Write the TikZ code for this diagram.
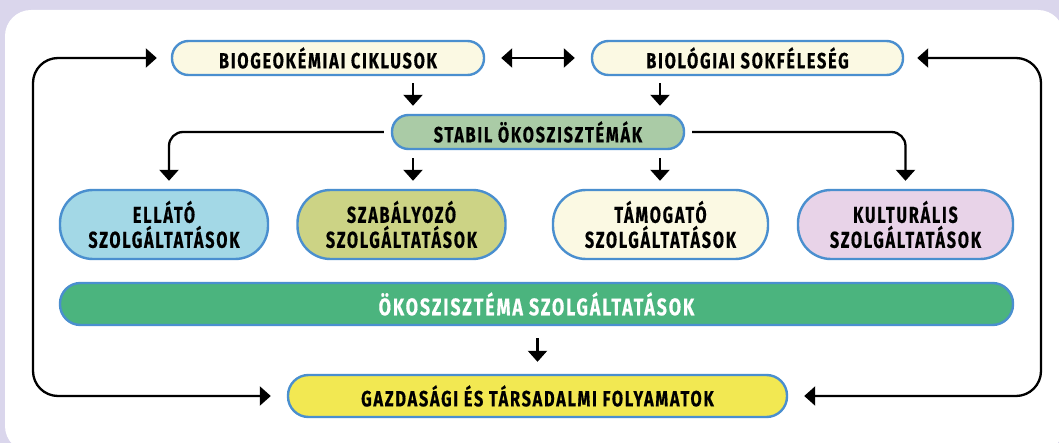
\documentclass[tikz,border=0pt]{standalone}
\usepackage{fontspec}
\newfontfamily\dfont{Fira Sans}[FakeStretch=0.74,LetterSpace=8,FakeBold=0.5]
\newfontfamily\dfontr{Fira Sans}[FakeStretch=0.7,LetterSpace=8,FakeBold=0.5]
\usetikzlibrary{arrows.meta,calc}
\definecolor{bgl}{HTML}{DAD6EC}
\definecolor{bordb}{HTML}{4A8FCF}
\definecolor{cream}{HTML}{FBF9E3}
\definecolor{sage}{HTML}{AACBA6}
\definecolor{lblue}{HTML}{A3D8E6}
\definecolor{olive}{HTML}{CCD385}
\definecolor{pinkl}{HTML}{E8D3E8}
\definecolor{ekog}{HTML}{4BB47E}
\definecolor{gyel}{HTML}{F2E852}
\tikzset{
  box/.style={draw=bordb, line width=2.4pt, rectangle, inner sep=0pt, align=center,
    font=\dfont\bfseries\fontsize{22}{24}\selectfont, text=black},
  bigtext/.style={font=\dfont\bfseries\fontsize{24}{24}\selectfont},
  thinbox/.style={box, minimum height=34pt, rounded corners=16.5pt},
  tallbox/.style={box, font=\dfontr\bfseries\fontsize{23}{25}\selectfont, minimum height=69pt, minimum width=208pt, rounded corners=33pt},
  midbox/.style={box, minimum height=42pt, rounded corners=20.5pt},
  arr/.style={line width=2.3pt, -{Triangle[width=19pt,length=11pt]}},
  darr/.style={line width=2.3pt, {Triangle[width=19pt,length=11pt]}-{Triangle[width=19pt,length=11pt]}},
}
\begin{document}
\begin{tikzpicture}[x=1pt,y=-1pt]
\useasboundingbox (0,0) rectangle (1059,443);
\fill[bgl] (0,0) rectangle (1059,443);
\begin{scope}
\clip (0,0) rectangle (1059,443);
\fill[white, rounded corners=26pt] (5,10) rectangle (1064,452);
\end{scope}
% nodes
\node[thinbox, fill=cream, minimum width=312pt] (b1) at (328,58) {BIOGEOKÉMIAI CIKLUSOK};
\node[thinbox, fill=cream, minimum width=311pt] (b2) at (747.5,58) {BIOLÓGIAI SOKFÉLESÉG};
\node[thinbox, fill=sage, minimum width=292pt] (st) at (538,132) {STABIL ÖKOSZISZTÉMÁK};
\node[tallbox, fill=lblue] (r1) at (164,224.5) {ELLÁTÓ\\SZOLGÁLTATÁSOK};
\node[tallbox, fill=olive] (r2) at (401.5,224.5) {SZABÁLYOZÓ\\SZOLGÁLTATÁSOK};
\node[tallbox, fill=cream, minimum width=215pt] (r3) at (660.5,224.5) {TÁMOGATÓ\\SZOLGÁLTATÁSOK};
\node[tallbox, fill=pinkl, minimum width=215pt] (r4) at (905.5,224.5) {KULTURÁLIS\\SZOLGÁLTATÁSOK};
\node[midbox, bigtext, fill=ekog, minimum width=953pt, text=white] (eko) at (536.5,304) {ÖKOSZISZTÉMA SZOLGÁLTATÁSOK};
\node[midbox, fill=gyel, minimum width=499pt] (gz) at (537.5,396) {GAZDASÁGI ÉS TÁRSADALMI FOLYAMATOK};
% helper coordinates
\coordinate (a1) at ([xshift=85pt]b1.south);
\coordinate (a2) at ([xshift=-87.5pt]b2.south);
\coordinate (L) at (33,0);
\coordinate (R) at (1041,0);
% connectors
\draw[darr] ([xshift=16pt]b1.east) -- ([xshift=-16pt]b2.west);
\draw[arr] ([yshift=-7pt]a1) -- ([yshift=8pt]a1 |- st.north);
\draw[arr] ([yshift=-7pt]a2) -- ([yshift=8pt]a2 |- st.north);
\draw[arr, rounded corners=14pt] ([xshift=-7pt]st.west) -| ([xshift=5pt,yshift=8pt]r1.north);
\draw[arr, rounded corners=14pt] ([xshift=7pt]st.east) -| ([yshift=8pt]r4.north);
\draw[arr] ([yshift=-8pt]a1 |- st.south) -- ([yshift=8pt]a1 |- r2.north);
\draw[arr] ([yshift=-8pt]a2 |- st.south) -- ([yshift=8pt]a2 |- r3.north);
\draw[arr] ([yshift=-12pt]eko.south -| gz.north) -- ([yshift=12pt]gz.north);
\draw[darr, rounded corners=25pt] ([xshift=-14pt]b1.west) -- (L |- b1.west) -- (L |- gz.west) -- ([xshift=-16pt]gz.west);
\draw[darr, rounded corners=25pt] ([xshift=13pt]b2.east) -- (R |- b2.east) -- (R |- gz.east) -- ([xshift=16pt]gz.east);
\end{tikzpicture}
\end{document}
